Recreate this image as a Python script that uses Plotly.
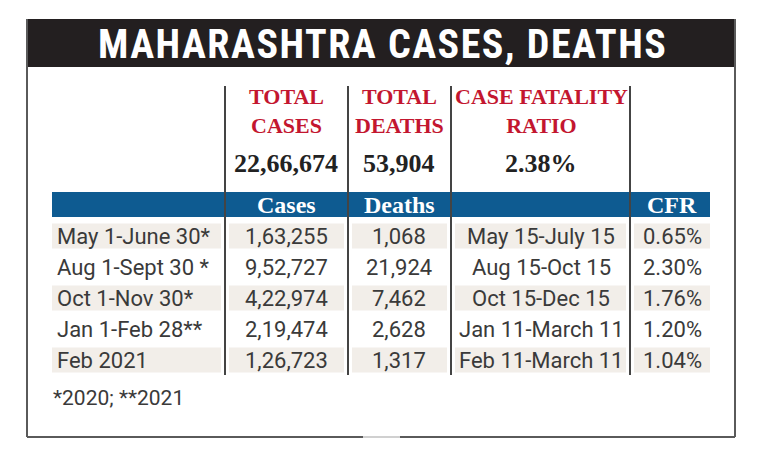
import plotly.graph_objects as go

# --- data -------------------------------------------------------------
title = "MAHARASHTRA CASES, DEATHS"
total_heads = ["TOTAL<br>CASES", "TOTAL<br>DEATHS", "CASE FATALITY<br>RATIO"]
total_values = ["22,66,674", "53,904", "2.38%"]
band_heads = ["Cases", "Deaths", "", "CFR"]

periods = ["May 1-June 30*", "Aug 1-Sept 30 *", "Oct 1-Nov 30*",
           "Jan 1-Feb 28**", "Feb 2021"]
cases = ["1,63,255", "9,52,727", "4,22,974", "2,19,474", "1,26,723"]
deaths = ["1,068", "21,924", "7,462", "2,628", "1,317"]
cfr_periods = ["May 15-July 15", "Aug 15-Oct 15", "Oct 15-Dec 15",
               "Jan 11-March 11", "Feb 11-March 11"]
cfr = ["0.65%", "2.30%", "1.76%", "1.20%", "1.04%"]
footnote = "*2020; **2021"

# --- layout constants -------------------------------------------------
W, H = 759, 463
PAD = 8                      # page body margin around the plot div
RED = "#c3162f"
BLUE = "#0e5b91"
SHADE = "#f2eee9"
TXT = "#3a3a3a"
SERIF = "Liberation Serif"
SANS = "Roboto"

col_x = [286, 399, 541, 672]          # centres of the numeric columns
sep_x = [225, 348, 451, 630]          # vertical rules
row_y0, row_dy = 236, 31


def styled(text, css):
    return f'<span style="{css}">{text}</span>'


fig = go.Figure()
shapes, ann = [], []

# frame
shapes.append(dict(type="rect", x0=27, x1=735, y0=19, y1=67,
                   fillcolor="#231f20", line_width=0))
for x in (27, 735):
    shapes.append(dict(type="line", x0=x, x1=x, y0=19, y1=437,
                       line=dict(color="#5a5a5a", width=2)))
shapes.append(dict(type="line", x0=27, x1=363, y0=437, y1=437,
                   line=dict(color="#5a5a5a", width=2)))
shapes.append(dict(type="line", x0=363, x1=400, y0=437, y1=437,
                   line=dict(color="#d0d0d0", width=2)))
shapes.append(dict(type="line", x0=400, x1=735, y0=437, y1=437,
                   line=dict(color="#5a5a5a", width=2)))

# blue header band
shapes.append(dict(type="rect", x0=52, x1=710, y0=192, y1=217,
                   fillcolor=BLUE, line_width=0))

# shaded rows
segs = [(52, 221), (229, 344), (352, 447), (455, 626), (634, 710)]
for i in range(0, len(periods), 2):
    yc = row_y0 + i * row_dy
    for a, b in segs:
        shapes.append(dict(type="rect", x0=a, x1=b, y0=yc - 12.5, y1=yc + 12.5,
                           fillcolor=SHADE, line_width=0, layer="below"))

# vertical rules
for x in sep_x:
    shapes.append(dict(type="line", x0=x, x1=x, y0=86, y1=375,
                       line=dict(color="#444444", width=2)))

# title
ann.append(dict(x=382, y=44,
                text=styled(title, "font-stretch:75%;letter-spacing:1.5px;font-weight:700"),
                font=dict(family=SANS, size=40, color="white")))

# totals header
for x, h, v in zip(col_x, total_heads, total_values):
    ann.append(dict(x=x, y=111, text="<b>" + h + "</b>",
                    font=dict(family=SERIF, size=22, color=RED)))
    ann.append(dict(x=x, y=163, text="<b>" + v + "</b>",
                    font=dict(family=SERIF, size=26, color="#222222")))

# band headers
for x, h in zip(col_x, band_heads):
    if h:
        ann.append(dict(x=x, y=205, text="<b>" + h + "</b>",
                        font=dict(family=SERIF, size=24, color="white")))

# rows
ROW_CSS = "font-stretch:88%"
for i in range(len(periods)):
    y = row_y0 + i * row_dy
    ann.append(dict(x=55, y=y, text=styled(periods[i], ROW_CSS), xanchor="left",
                    font=dict(family=SANS, size=22, color=TXT)))
    for x, col in zip(col_x, (cases, deaths, cfr_periods, cfr)):
        ann.append(dict(x=x, y=y, text=styled(col[i], ROW_CSS),
                        font=dict(family=SANS, size=22, color=TXT)))

ann.append(dict(x=51, y=398, text=footnote, xanchor="left",
                font=dict(family=SANS, size=21, color=TXT)))

for a in ann:
    a.setdefault("xanchor", "center")
    a.update(xref="x", yref="y", showarrow=False, yanchor="middle")

fig.update_layout(
    width=W - PAD, height=H - PAD,
    margin=dict(l=0, r=0, t=0, b=0),
    paper_bgcolor="white", plot_bgcolor="white",
    xaxis=dict(range=[PAD, W], visible=False, fixedrange=True),
    yaxis=dict(range=[H, PAD], visible=False, fixedrange=True),
    shapes=shapes, annotations=ann, showlegend=False,
)
fig.write_html("out.html")
